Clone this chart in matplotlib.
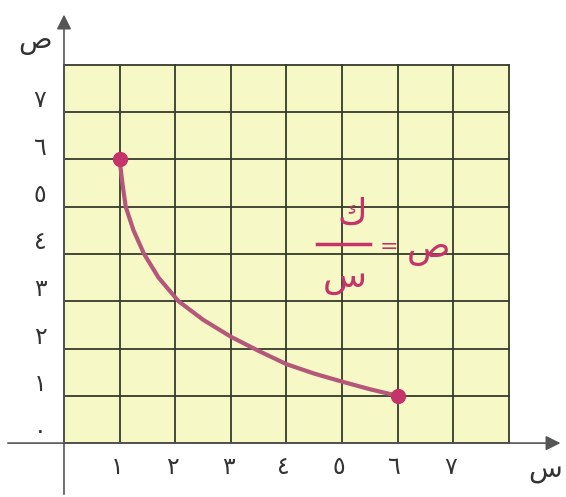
import matplotlib
matplotlib.use("Agg")
import matplotlib.pyplot as plt
from matplotlib.patches import Rectangle

# curve (hand drawn, roughly y = k / x)
curve_x = [1, 1.05, 1.11, 1.25, 1.44, 1.70, 2.06, 2.5, 3, 3.5, 4, 4.5, 5, 5.5, 6]
curve_y = [6, 5.5, 5, 4.5, 4, 3.5, 3, 2.61, 2.25, 1.95, 1.67, 1.47, 1.3, 1.14, 1.0]
end_x = [1, 6]
end_y = [6, 1]

x_ticks = [1, 2, 3, 4, 5, 6, 7]
x_labels = ["١", "٢", "٣", "٤", "٥", "٦", "٧"]
y_ticks = [0, 1, 2, 3, 4, 5, 6, 7]
y_labels = ["٠", "١", "٢", "٣", "٤", "٥", "٦", "٧"]
grid_max = 8

pink = "#c4336a"
line_col = "#b5577a"
grid_col = "#363b2a"

fig = plt.figure(figsize=(5.66, 4.97), dpi=100)
ax = fig.add_axes([0, 0, 1, 1])
ax.set_xlim(-1.151, 9.03)
ax.set_ylim(-1.14, 9.37)
ax.axis("off")

# yellow grid paper
ax.add_patch(Rectangle((0, 0), grid_max, grid_max, facecolor="#f6f8c6",
                       edgecolor="none", zorder=0))
for v in range(grid_max + 1):
    ax.plot([v, v], [0, grid_max], color=grid_col, lw=1.3, zorder=1)
    ax.plot([0, grid_max], [v, v], color=grid_col, lw=1.3, zorder=1)

# axes with arrows
ax.annotate("", xy=(8.98, 0), xytext=(-1.06, 0),
            arrowprops=dict(arrowstyle="-|>", color="#555555", lw=1.2,
                            mutation_scale=22), zorder=2)
ax.annotate("", xy=(0, 9.12), xytext=(0, -1.14),
            arrowprops=dict(arrowstyle="-|>", color="#555555", lw=1.2,
                            mutation_scale=22), zorder=2)

fam = ["DejaVu Sans"]
for t, lab in zip(x_ticks, x_labels):
    ax.text(t - 0.05, -0.5, lab, ha="center", va="center", fontsize=17,
            color="#333333", family=fam)
for t, lab in zip(y_ticks, y_labels):
    ax.text(-0.43, t + 0.25, lab, ha="center", va="center", fontsize=17,
            color="#333333", family=fam)

ax.text(-0.52, 8.5, "ص", ha="center", va="center", fontsize=20,
        color="#333333", family=fam)
ax.text(8.65, -0.55, "س", ha="center", va="center", fontsize=20,
        color="#333333", family=fam)

# the curve and its end points
ax.plot(curve_x, curve_y, color=line_col, lw=3, solid_capstyle="round",
        solid_joinstyle="round", zorder=3)
ax.plot(end_x, end_y, "o", color=pink, markersize=10, zorder=4)

# equation  ص = ك / س
ax.text(6.55, 4.1, "ص", ha="center", va="center", fontsize=26, color=pink, family=fam)
ax.text(5.85, 4.15, "=", ha="center", va="center", fontsize=16, color=pink, family=fam)
ax.plot([4.55, 5.5], [4.2, 4.2], color=pink, lw=2.5)
ax.text(5.18, 4.85, "ك", ha="center", va="center", fontsize=26, color=pink, family=fam)
ax.text(5.05, 3.5, "س", ha="center", va="center", fontsize=26, color=pink, family=fam)

fig.savefig("out.png", dpi=100)
